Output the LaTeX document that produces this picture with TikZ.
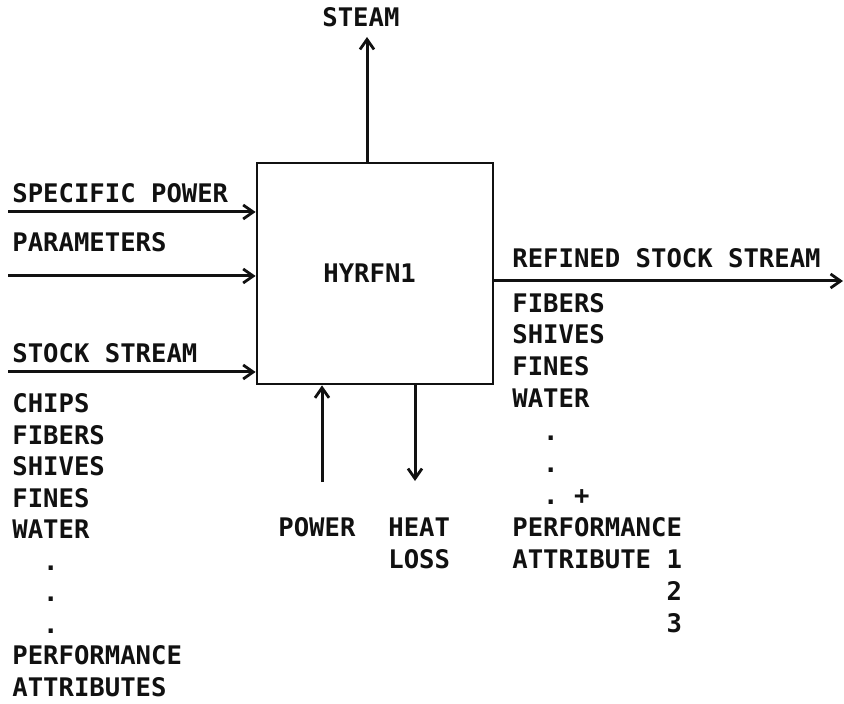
\documentclass[tikz,border=0pt]{standalone}
\usepackage{fontspec}
\setmonofont{DejaVu Sans Mono}
\usetikzlibrary{arrows.meta, positioning, calc}
\definecolor{InkBlack}{HTML}{111111}
\tikzset{
  block/.style={draw=InkBlack, line width=1.4pt, minimum width=118pt, minimum height=110.5pt, inner sep=0pt},
  tag/.style={anchor=base west, inner sep=0pt, text=InkBlack, font=\ttfamily\bfseries\fontsize{12.8}{16}\selectfont},
  taglist/.style={tag, align=left},
  flow/.style={-{Straight Barb[length=5pt, width=7pt, line width=1.4pt]}, line width=1.5pt, draw=InkBlack}
}
\begin{document}
\begin{tikzpicture}[x=0.5pt, y=-0.5pt]
\useasboundingbox (0,0) rectangle (844,704);

\node[block] (hyrfn) at (375,273.5) {};
\node[tag] (name) at (323,283) {HYRFN1};

% inputs on the left
\node[tag] (spower) at (12,203) {SPECIFIC POWER};
\node[tag] (param) at (12,252) {PARAMETERS};
\node[tag] (stock) at (12,363) {STOCK STREAM};
\node[taglist, font=\ttfamily\bfseries\fontsize{12.8}{15.75}\selectfont] (stocklist) at (12,696)
  {CHIPS\\FIBERS\\SHIVES\\FINES\\WATER\\\hphantom{00}.\\\hphantom{00}.\\\hphantom{00}.\\PERFORMANCE\\ATTRIBUTES};

\coordinate (in1) at (8,212);
\coordinate (in2) at (8,276);
\coordinate (in3) at (8,372);
\draw[flow] (in1) -- (in1 -| hyrfn.west);
\draw[flow] (in2) -- (in2 -| hyrfn.west);
\draw[flow] (in3) -- (in3 -| hyrfn.west);

% steam on top
\node[tag] (steam) at (322,27) {STEAM};
\coordinate (up) at (367,37);
\draw[flow] (up |- hyrfn.north) -- (up);

% power and heat loss below
\node[tag] (power) at (278,536) {POWER};
\node[taglist] (heat) at (388,568) {HEAT\\LOSS};
\coordinate (pin) at (322,482);
\coordinate (hout) at (415,481);
\draw[flow] (pin) -- (pin |- hyrfn.south);
\draw[flow] (hout |- hyrfn.south) -- (hout);

% refined stock stream on the right
\node[tag] (refined) at (512,268) {REFINED STOCK STREAM};
\node[taglist] (outlist) at (512,632)
  {FIBERS\\SHIVES\\FINES\\WATER\\\hphantom{00}.\\\hphantom{00}.\\\hphantom{00}.\hphantom{0}+\\PERFORMANCE\\ATTRIBUTE 1\\\hphantom{0000000000}2\\\hphantom{0000000000}3};
\coordinate (out) at (843,281);
\draw[flow] (out -| hyrfn.east) -- (out);
\end{tikzpicture}
\end{document}
